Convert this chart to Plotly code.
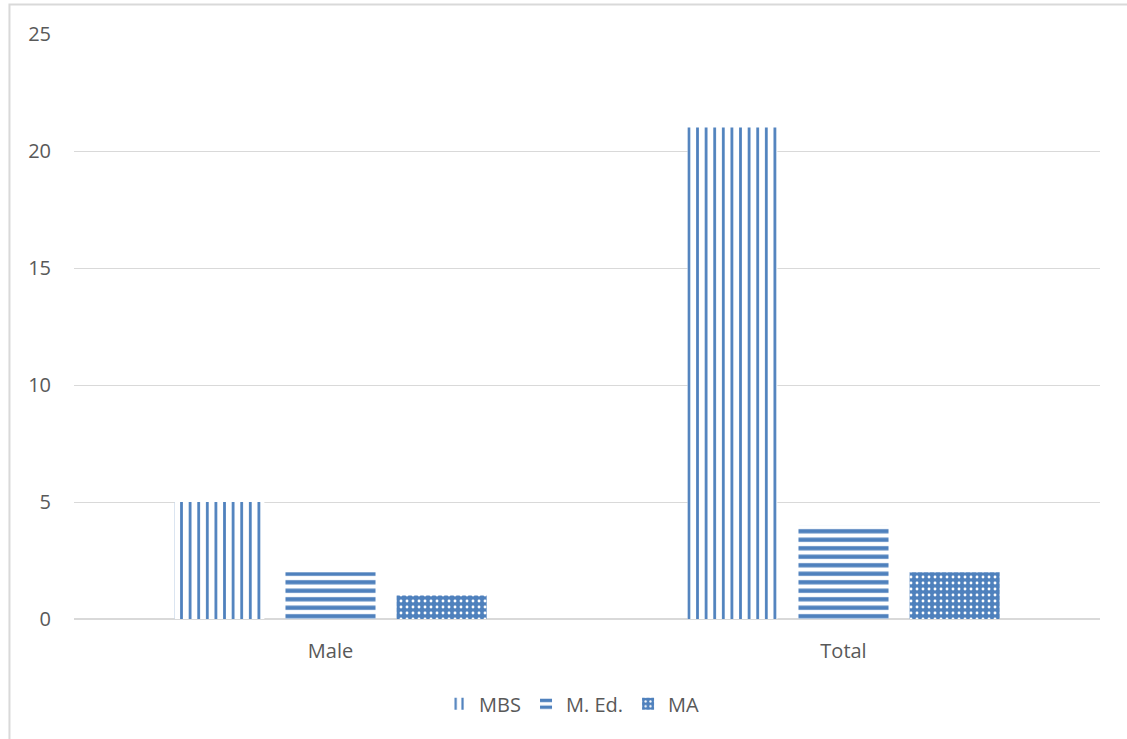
import plotly.graph_objects as go

categories = ["Male", "Total"]
series_names = ["MBS", "M. Ed.", "MA"]
mbs = [5, 21]
med = [2, 4]
ma = [1, 2]

blue = "#4F81BD"
font_color = "#595959"

fig = go.Figure()
fig.add_trace(go.Bar(
    name=series_names[0], x=categories, y=mbs,
    marker=dict(color="white", line=dict(width=0),
                pattern=dict(shape="|", fgcolor=blue, bgcolor="white", size=8.6, solidity=0.32, fillmode="replace")),
))
fig.add_trace(go.Bar(
    name=series_names[1], x=categories, y=med,
    marker=dict(color="white", line=dict(width=0),
                pattern=dict(shape="-", fgcolor=blue, bgcolor="white", size=8.5, solidity=0.5, fillmode="replace")),
))
fig.add_trace(go.Bar(
    name=series_names[2], x=categories, y=ma,
    marker=dict(color=blue, line=dict(width=0),
                pattern=dict(shape=".", fgcolor="white", bgcolor=blue, size=6, solidity=0.18, fillmode="replace")),
))

fig.update_layout(
    width=1127, height=739,
    margin=dict(l=74, r=27, t=34, b=120),
    paper_bgcolor="white", plot_bgcolor="white",
    barmode="group", bargap=0.35, bargroupgap=0.19,
    font=dict(family="Open Sans", size=20, color=font_color),
    showlegend=True,
    legend=dict(orientation="h", x=0.485, xanchor="center", y=-0.145, yanchor="middle",
                font=dict(size=20, color=font_color), itemwidth=30, traceorder="normal"),
    xaxis=dict(showgrid=False, showline=False, ticks="", ticklabelstandoff=18,
               tickfont=dict(size=20, color=font_color)),
    yaxis=dict(range=[0, 25], dtick=5, showgrid=True, gridcolor="#D9D9D9", gridwidth=1,
               zeroline=True, zerolinecolor="#D9D9D9", zerolinewidth=1.5,
               showline=False, ticks="", ticklabelstandoff=22,
               tickfont=dict(size=20, color=font_color)),
    shapes=[dict(type="rect", xref="paper", yref="paper",
                 x0=-0.0629, x1=1.04, y0=-0.25, y1=1.0504,
                 line=dict(color="#D9D9D9", width=2), fillcolor="rgba(0,0,0,0)", layer="below")],
)

fig.write_html("out.html", config={"displayModeBar": False},
               post_script="document.body.style.margin='0';")
